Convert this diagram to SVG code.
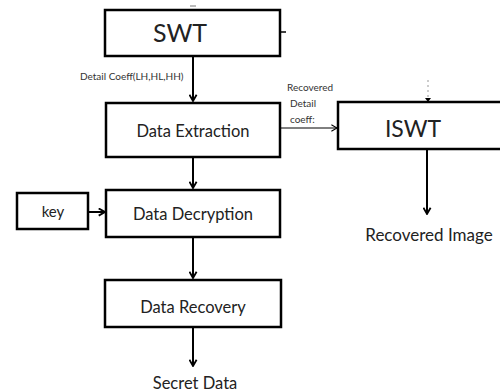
<svg xmlns="http://www.w3.org/2000/svg" width="500" height="392" viewBox="0 0 500 392">
  <defs>
    <marker id="ah" viewBox="0 0 10 10" refX="9" refY="5" markerWidth="9" markerHeight="9" orient="auto" markerUnits="userSpaceOnUse">
      <path d="M2,1 L9,5 L2,9" fill="none" stroke="#000" stroke-width="2"/>
    </marker>
    <marker id="ahThin" viewBox="0 0 10 10" refX="9" refY="5" markerWidth="8" markerHeight="8" orient="auto" markerUnits="userSpaceOnUse">
      <path d="M2,1 L9,5 L2,9" fill="none" stroke="#000" stroke-width="1.3"/>
    </marker>
  </defs>
  <style>
    .box { fill: #fff; stroke: #000; stroke-width: 2.5; }
    .t { font-family: Lato, "Liberation Sans", sans-serif; fill: #222; text-anchor: middle; }
    .lbl { font-family: Lato, "Liberation Sans", sans-serif; fill: #333; }
    .conn { stroke: #000; stroke-width: 2; fill: none; }
    .thin { stroke: #000; stroke-width: 1; fill: none; }
  </style>
  <rect width="500" height="392" fill="#fff"/>

  <g id="connectors">
    <line class="conn" x1="193" y1="56" x2="193" y2="101" marker-end="url(#ah)"/>
    <line class="conn" x1="193" y1="157" x2="193" y2="188" marker-end="url(#ah)"/>
    <line class="conn" x1="193" y1="237" x2="193" y2="278" marker-end="url(#ah)"/>
    <line class="conn" x1="193" y1="327" x2="193" y2="366" marker-end="url(#ah)"/>
    <line class="conn" x1="88" y1="212" x2="105" y2="212" marker-end="url(#ah)"/>
    <line class="thin" x1="280" y1="128" x2="337" y2="128" marker-end="url(#ahThin)"/>
    <line class="conn" x1="427" y1="149" x2="427" y2="214" marker-end="url(#ah)"/>
    <line x1="428" y1="80" x2="428" y2="97" stroke="#999" stroke-width="1" stroke-dasharray="2,3"/>
    <path d="M425,98 L428,102 L431,98 Z" fill="#000"/>
    <line x1="281" y1="32" x2="286" y2="32" stroke="#000" stroke-width="1.5"/>
    <line x1="190" y1="6" x2="196" y2="6" stroke="#777" stroke-width="1"/>
  </g>

  <g id="swt">
    <rect class="box" x="105" y="10" width="175" height="46"/>
    <text class="t" x="180" y="42" font-size="25">SWT</text>
  </g>

  <text class="lbl" x="80" y="80" font-size="10">Detail Coeff(LH,HL,HH)</text>

  <g id="extraction">
    <rect class="box" x="106" y="103" width="174" height="54"/>
    <text class="t" x="193" y="137" font-size="16.5">Data Extraction</text>
  </g>

  <g id="recovered-label">
    <text class="lbl" x="287" y="91" font-size="10">Recovered</text>
    <text class="lbl" x="290" y="107" font-size="10">Detail</text>
    <text class="lbl" x="290" y="123" font-size="10">coeff:</text>
  </g>

  <g id="iswt">
    <rect class="box" x="338" y="102" width="170" height="47"/>
    <text class="t" x="413" y="137" font-size="23">ISWT</text>
  </g>

  <text class="t" x="429" y="241" font-size="17">Recovered Image</text>

  <g id="key">
    <rect class="box" x="17" y="193" width="71" height="36"/>
    <text class="t" x="53" y="217" font-size="15">key</text>
  </g>

  <g id="decryption">
    <rect class="box" x="106" y="190" width="174" height="47"/>
    <text class="t" x="193" y="220" font-size="16.5">Data Decryption</text>
  </g>

  <g id="recovery">
    <rect class="box" x="105" y="280" width="176" height="47"/>
    <text class="t" x="193" y="313" font-size="16.5">Data Recovery</text>
  </g>

  <text class="t" x="195" y="389" font-size="16.5">Secret Data</text>
</svg>
